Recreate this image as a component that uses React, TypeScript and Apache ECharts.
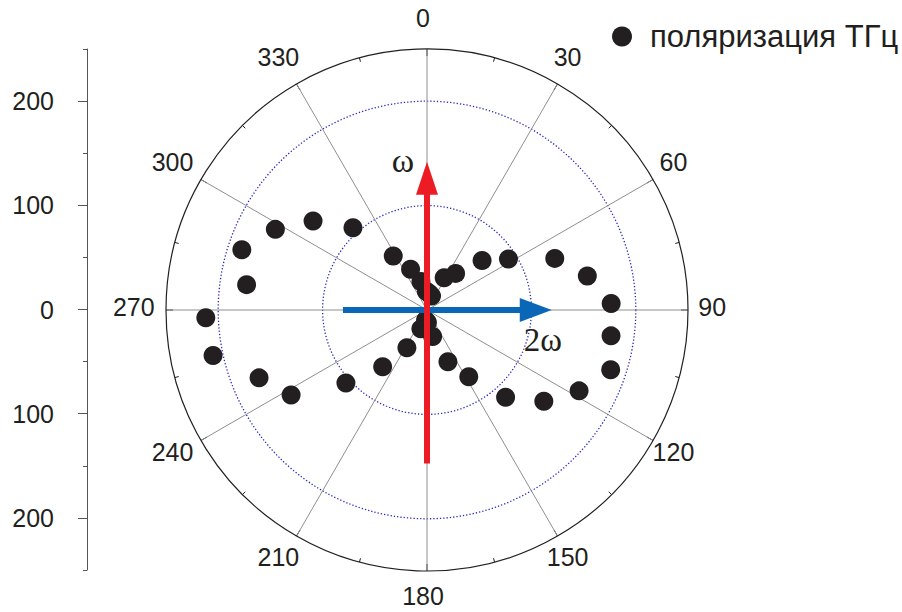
import React, { useEffect, useRef } from 'react';
import * as echarts from 'echarts';

// polarization angle (deg) and THz signal (a.u.)
const angles = [8, 18, 28, 38, 48, 58, 68, 78, 88, 98, 108, 118, 128, 138, 148, 158, 168, 178,
  188, 198, 208, 218, 228, 238, 248, 258, 268, 278, 288, 298, 308, 318, 328, 338, 348, 358];
const values = [16, 14, 35, 44.5, 71, 92, 132, 157, 176.5, 178, 185, 165, 142, 112.5, 75.5, 53.5, 26, 12,
  10, 19, 41, 69, 104.5, 153.5, 173.5, 209.5, 212, 174.5, 186.5, 164.5, 138.5, 106, 61, 42, 28, 18];

const angleTicks = [0, 30, 60, 90, 120, 150, 180, 210, 240, 270, 300, 330];
const angleTickLabels = ['0', '30', '60', '90', '120', '150', '180', '210', '240', '270', '300', '330'];
const sideTickValues = [200, 100, 0, -100, -200];
const sideMinorTickValues = [250, 150, 50, -50, -150, -250];
const ringValues = [100, 200];
const seriesName = 'поляризация ТГц';
// arrows in [radius, angle]
const omegaArrow = { from: [147, 180], to: [142, 0], label: 'ω' };
const twoOmegaArrow = { from: [80.5, 270], to: [119.5, 90], label: '2ω' };

export default function App() {
  const ref = useRef<HTMLDivElement>(null);
  useEffect(() => {
    const chart = echarts.init(ref.current!, null, { renderer: 'svg' });
    const FONT = '"Liberation Sans", Arial, sans-serif';
    const SERIF = '"Liberation Serif", "Times New Roman", serif';
    const INK = '#231f20';
    chart.setOption({
      animation: false,
      backgroundColor: '#ffffff',
      textStyle: { fontFamily: FONT },
      legend: {
        data: [seriesName],
        left: 612,
        top: 21,
        padding: 0,
        icon: 'circle',
        itemWidth: 20,
        itemHeight: 20,
        itemStyle: { opacity: 1, color: INK },
        textStyle: { fontSize: 31, color: INK, fontFamily: FONT, padding: [0, 0, 0, 13] },
      },
      polar: { center: [427, 310], radius: 261 },
      angleAxis: {
        type: 'value', min: 0, max: 360, interval: 30, startAngle: 90, clockwise: true,
        axisLine: { show: true, lineStyle: { color: INK, width: 1.2 } },
        axisTick: { show: true, inside: true, length: 7, lineStyle: { color: INK } },
        minorTick: { show: true, splitNumber: 2, length: 4, lineStyle: { color: INK } },
        axisLabel: { show: false },
        splitLine: { show: true, lineStyle: { color: '#8f8f8f', width: 1 } },
      },
      radiusAxis: {
        type: 'value', min: 0, max: 250, interval: 50,
        axisLine: { show: false },
        axisTick: { show: false, customValues: ringValues },
        axisLabel: { show: false },
        splitLine: { show: true, lineStyle: { color: '#2a2abf', width: 1.3, type: [1.3, 2] } },
      },
      grid: { left: 87, top: 49, width: 1, height: 521 },
      xAxis: { type: 'value', show: false, min: 0, max: 1 },
      yAxis: [
        {
          type: 'value', min: -250, max: 250, interval: 50, position: 'left',
          axisLine: { show: true, lineStyle: { color: '#555555', width: 1 } },
          axisTick: { show: true, length: 9, customValues: sideTickValues, lineStyle: { color: '#555555' } },
          axisLabel: {
            customValues: sideTickValues, margin: 33, fontSize: 25, color: INK, fontFamily: FONT,
            formatter: (v: number) => String(Math.abs(v)),
          },
          splitLine: { show: false },
        },
        {
          type: 'value', min: -250, max: 250, interval: 50, position: 'left', offset: 0,
          axisLine: { show: false },
          axisTick: { show: true, length: 4, customValues: sideMinorTickValues, lineStyle: { color: '#555555' } },
          axisLabel: { show: false },
          splitLine: { show: false },
        },
      ],
      series: [
        {
          name: seriesName,
          type: 'scatter',
          coordinateSystem: 'polar',
          symbol: 'circle',
          symbolSize: 19,
          itemStyle: { color: INK, opacity: 1 },
          data: angles.map((a, i) => [values[i], a]),
          z: 3,
        },
      ],
    });

    const px = (rv: number[]) => chart.convertToPixel({ polarIndex: 0 } as any, rv) as number[];

    const graphics: any[] = [];
    angleTicks.forEach((a, i) => {
      const p = px([277, a]);
      graphics.push({
        type: 'text', x: p[0] - 4, y: p[1] - 3, z: 50,
        style: { text: angleTickLabels[i], fontSize: 25, fill: INK, fontFamily: FONT, align: 'center', verticalAlign: 'middle' },
      });
    });

    const arrow = (from: number[], to: number[], color: string, width: number, headLen: number, headW: number, z: number) => {
      const a = px(from);
      const b = px(to);
      const dx = b[0] - a[0];
      const dy = b[1] - a[1];
      const len = Math.sqrt(dx * dx + dy * dy);
      const ux = dx / len, uy = dy / len;
      const base = [b[0] - ux * headLen, b[1] - uy * headLen];
      const nx = -uy, ny = ux;
      graphics.push({
        type: 'line', z,
        shape: { x1: a[0], y1: a[1], x2: base[0] + ux * 1, y2: base[1] + uy * 1 },
        style: { stroke: color, lineWidth: width },
      });
      graphics.push({
        type: 'polygon', z,
        shape: { points: [[b[0], b[1]], [base[0] + nx * headW / 2, base[1] + ny * headW / 2], [base[0] - nx * headW / 2, base[1] - ny * headW / 2]] },
        style: { fill: color },
      });
      return b;
    };

    const bTip = arrow(twoOmegaArrow.from, twoOmegaArrow.to, '#0a66b7', 6, 32, 24, 60);
    const rTip = arrow(omegaArrow.from, omegaArrow.to, '#ed1c24', 6, 33, 22, 61);

    graphics.push({
      type: 'text', x: rTip[0] - 24, y: rTip[1] - 1, z: 62,
      style: { text: omegaArrow.label, fontSize: 34, fill: INK, fontFamily: SERIF, align: 'center', verticalAlign: 'middle' },
    });
    graphics.push({
      type: 'text', x: bTip[0] - 9, y: bTip[1] + 30, z: 62,
      style: { text: twoOmegaArrow.label, fontSize: 33, fill: INK, fontFamily: SERIF, align: 'center', verticalAlign: 'middle' },
    });

    chart.setOption({ graphic: graphics });

    return () => chart.dispose();
  }, []);

  return (
    <div
      ref={ref}
      style={{ position: 'fixed', left: 0, top: 0, width: 902, height: 612, background: '#fff' }}
    />
  );
}
